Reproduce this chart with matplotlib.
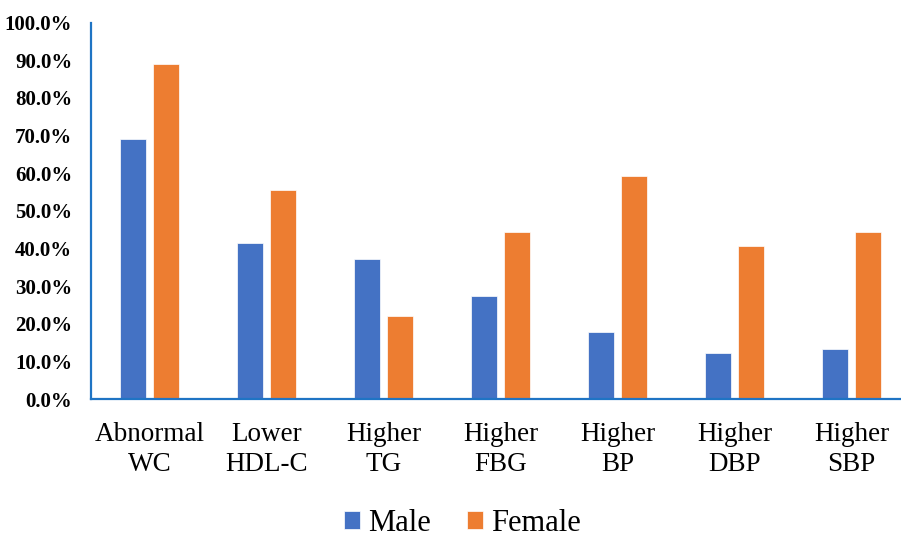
import numpy as np
from matplotlib import pyplot as plt
from matplotlib.ticker import FuncFormatter

categories = ["Abnormal\nWC", "Lower\nHDL-C", "Higher\nTG", "Higher\nFBG",
              "Higher\nBP", "Higher\nDBP", "Higher\nSBP"]
male = [69.0, 41.4, 37.2, 27.4, 17.9, 12.2, 13.4]
female = [89.0, 55.5, 22.1, 44.4, 59.3, 40.7, 44.4]

plt.rcParams['font.family'] = ['Liberation Serif', 'DejaVu Serif']

fig = plt.figure(figsize=(9.01, 5.36), dpi=100)
ax = fig.add_axes([0.101, 0.255, 0.909, 0.703])

x = np.arange(len(categories))
w = 0.222
ax.bar(x - 0.143, male, w, color='#4472C4', edgecolor='white', linewidth=0.5, label='Male')
ax.bar(x + 0.143, female, w, color='#ED7D31', edgecolor='white', linewidth=0.5, label='Female')

ax.set_xlim(-0.5, 6.5)
ax.set_ylim(0, 100)
ax.set_yticks(np.arange(0, 101, 10))
ax.yaxis.set_major_formatter(FuncFormatter(lambda v, p: f"{v:.1f}%"))
ax.set_xticks(x)
ax.set_xticklabels(categories, fontsize=19.5, linespacing=1.3)
for lab in ax.get_yticklabels():
    lab.set_fontweight('bold')
    lab.set_fontsize(15)
ax.tick_params(axis='x', length=0, pad=16)
ax.tick_params(axis='y', length=0, pad=13.5)

for s in ['top', 'right']:
    ax.spines[s].set_visible(False)
for s in ['left', 'bottom']:
    ax.spines[s].set_color('#1F74C4')
    ax.spines[s].set_linewidth(1.6)

fig.legend(loc='center', bbox_to_anchor=(0.513, 0.024), ncol=2, frameon=False,
           fontsize=22, handlelength=0.52, handleheight=0.52,
           handletextpad=0.25, columnspacing=1.2)

plt.savefig('out.png', dpi=100)
